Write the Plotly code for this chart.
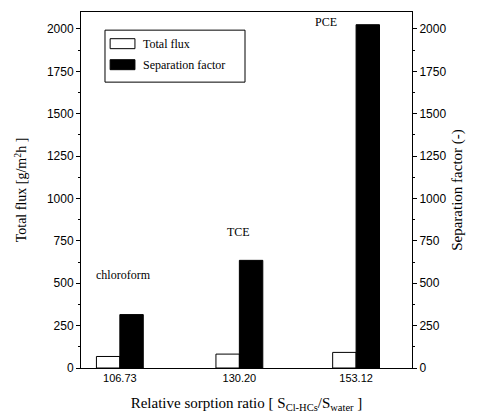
import plotly.graph_objects as go

# Relative sorption ratio for each chlorinated hydrocarbon
ratio = [106.73, 130.20, 153.12]
ratio_labels = ["106.73", "130.20", "153.12"]
compounds = ["chloroform", "TCE", "PCE"]

# Measured pervaporation results
total_flux = [68, 82, 92]            # g/m2h
separation_factor = [315, 635, 2025]  # (-)

bar_w = 4.6
serif = "Liberation Serif, Times New Roman, serif"
sans = "Liberation Sans, Arial, sans-serif"

fig = go.Figure()
fig.add_trace(go.Bar(
    x=ratio, y=total_flux, name="Total flux",
    width=bar_w, offset=-bar_w,
    marker=dict(color="white", line=dict(color="black", width=1)),
    yaxis="y",
))
fig.add_trace(go.Bar(
    x=ratio, y=separation_factor, name="Separation factor",
    width=bar_w, offset=0,
    marker=dict(color="black", line=dict(color="black", width=1)),
    yaxis="y2",
))

# compound names above the separation-factor bars
label_pos = [(107.5, 549), (130.0, 802), (147.2, 2041)]
annotations = [
    dict(x=px, y=py, xref="x", yref="y", text=name, showarrow=False,
         font=dict(family=serif, size=12, color="black"))
    for name, (px, py) in zip(compounds, label_pos)
]

# boxed legend with wide rectangular swatches
legend_items = [("Total flux", "white", 0.911), ("Separation factor", "black", 0.852)]
shapes = [dict(type="rect", xref="paper", yref="paper",
               x0=0.0725, x1=0.4955, y0=0.803, y1=0.949,
               line=dict(color="black", width=1), fillcolor="white", layer="above")]
for text, color, yc in legend_items:
    shapes.append(dict(type="rect", xref="paper", yref="paper",
                       x0=0.088, x1=0.163, y0=yc - 0.014, y1=yc + 0.014,
                       line=dict(color="black", width=1), fillcolor=color, layer="above"))
    annotations.append(dict(x=0.180, y=yc, xref="paper", yref="paper",
                            xanchor="left", yanchor="middle", text=text, showarrow=False,
                            font=dict(family=serif, size=12, color="black")))

axis_common = dict(
    showline=True, linecolor="black", linewidth=1,
    ticks="outside", ticklen=4, tickcolor="black",
    showgrid=False, zeroline=False, automargin=False,
    tickfont=dict(family=sans, size=12, color="black"),
)

fig.update_layout(
    width=477, height=415,
    margin=dict(l=81, r=65, t=12, b=47),
    paper_bgcolor="white", plot_bgcolor="white",
    barmode="overlay",
    showlegend=False,
    xaxis=dict(
        range=[99.1, 164.1],
        tickvals=ratio, ticktext=ratio_labels,
        showline=True, linecolor="black", linewidth=1, mirror=True,
        ticks="", showgrid=False, zeroline=False, automargin=False,
        tickfont=dict(family=sans, size=11, color="black"),
        title=dict(
            text="Relative sorption ratio [ S<sub>Cl-HCs</sub>/S<sub>water</sub> ]",
            font=dict(family=serif, size=15, color="black"), standoff=14,
        ),
    ),
    yaxis=dict(
        range=[0, 2100], tickvals=[0, 250, 500, 750, 1000, 1250, 1500, 1750, 2000],
        minor=dict(ticks="outside", ticklen=2, dtick=125, tickcolor="black"),
        title=dict(text="Total flux [g/m<sup>2</sup>h ]",
                   font=dict(family=serif, size=14, color="black"), standoff=16),
        **axis_common,
    ),
    yaxis2=dict(
        range=[0, 2100], tickvals=[0, 250, 500, 750, 1000, 1250, 1500, 1750, 2000],
        overlaying="y", side="right",
        minor=dict(ticks="outside", ticklen=2, dtick=125, tickcolor="black"),
        title=dict(text="Separation factor (-)",
                   font=dict(family=serif, size=15, color="black"), standoff=6),
        **axis_common,
    ),
    annotations=annotations,
    shapes=shapes,
)

fig.write_html("out.html")
